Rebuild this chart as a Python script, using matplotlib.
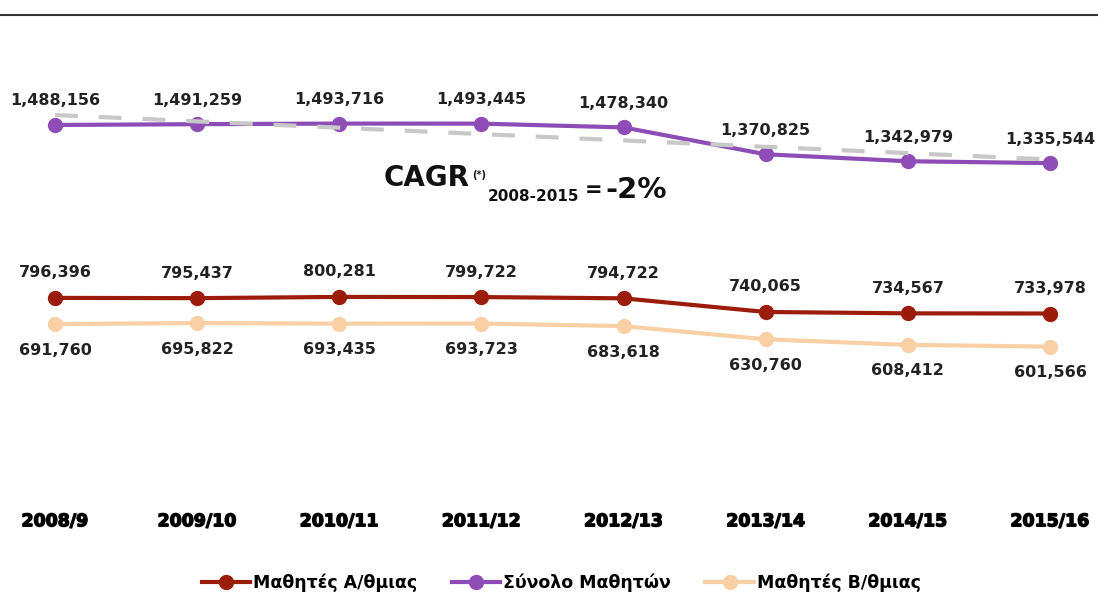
import numpy as np
import matplotlib
matplotlib.use("Agg")
import matplotlib.pyplot as plt
import matplotlib.patheffects as pe

# -----------------------------------------------------------------------------
# Dados (μαθητές ανά σχολικό έτος)
# -----------------------------------------------------------------------------
anos = ["2008/9", "2009/10", "2010/11", "2011/12",
        "2012/13", "2013/14", "2014/15", "2015/16"]
total = [1488156, 1491259, 1493716, 1493445, 1478340, 1370825, 1342979, 1335544]
prim = [796396, 795437, 800281, 799722, 794722, 740065, 734567, 733978]
sec = [691760, 695822, 693435, 693723, 683618, 630760, 608412, 601566]
trend = [1528000, 1350000]   # γραμμή τάσης (αρχή, τέλος)

nomes = ["Μαθητές Α/θμιας", "Σύνολο Μαθητών", "Μαθητές Β/θμιας"]
cores = ["#9C1C0C", "#8E4DB6", "#F9D0A6"]

# -----------------------------------------------------------------------------
# Figura
# -----------------------------------------------------------------------------
fig = plt.figure(figsize=(10.98, 5.94), dpi=100)
ax = fig.add_axes([0, 97 / 594, 1, 1 - 97 / 594 - 15 / 594])

x = np.arange(len(anos))

l_prim, = ax.plot(x, prim, color=cores[0], lw=3, marker="o", ms=10, zorder=3)
l_tot, = ax.plot(x, total, color=cores[1], lw=3, marker="o", ms=10, zorder=3)
l_sec, = ax.plot(x, sec, color=cores[2], lw=3, marker="o", ms=10, zorder=3)
ax.plot([x[0], x[-1]], trend, color="#C8C8C8", lw=3, ls=(0, (5.5, 5)), zorder=4)

ax.set_xlim(-55 / 142.14, (1098 - 55) / 142.14)
ax.set_ylim(0, 482 * 4000)

rotulo = dict(ha="center", va="center", fontsize=11.5, fontweight="bold",
              color="#222222", family="DejaVu Sans", textcoords="offset pixels")
for i in range(len(anos)):
    ax.annotate(f"{total[i]:,}", (x[i], total[i]), xytext=(0, 24), **rotulo)
    ax.annotate(f"{prim[i]:,}", (x[i], prim[i]), xytext=(0, 25), **rotulo)
    ax.annotate(f"{sec[i]:,}", (x[i], sec[i]), xytext=(0, -26), **rotulo)

# Eixos
for lado in ["left", "right", "bottom"]:
    ax.spines[lado].set_visible(False)
ax.spines["top"].set_color("#333333")
ax.spines["top"].set_linewidth(1.5)
ax.set_yticks([])
ax.set_xticks(x)
ax.set_xticklabels(anos)
ax.tick_params(axis="x", length=0, pad=11)
for t in ax.get_xticklabels():
    t.set_fontsize(12.5)
    t.set_fontweight("bold")
    t.set_family("DejaVu Sans")
    t.set_path_effects([pe.PathPatchEffect(edgecolor="black", facecolor="black",
                                           linewidth=1.0)])

# CAGR
estilo = dict(fontweight="bold", family="DejaVu Sans", color="#111111",
              va="baseline")
pecas = [("CAGR", 20, 384, 186), ("(*)", 7, 472, 178),
         ("2008-2015", 11, 488, 201), ("=", 15, 585, 196),
         ("-2%", 21, 605, 198)]
for txt, tam, px, base in pecas:
    fig.text(px / 1098, 1 - base / 594, txt, fontsize=tam, **estilo)

# Legenda
fig.legend([l_prim, l_tot, l_sec], nomes, loc="center",
           bbox_to_anchor=(0.511, 1 - 583 / 594), ncol=3, frameon=False,
           handlelength=2.8, columnspacing=2.0, handletextpad=0.15,
           prop=dict(family="DejaVu Sans", size=12.5, weight="bold"))

fig.savefig("out.png", dpi=100)
